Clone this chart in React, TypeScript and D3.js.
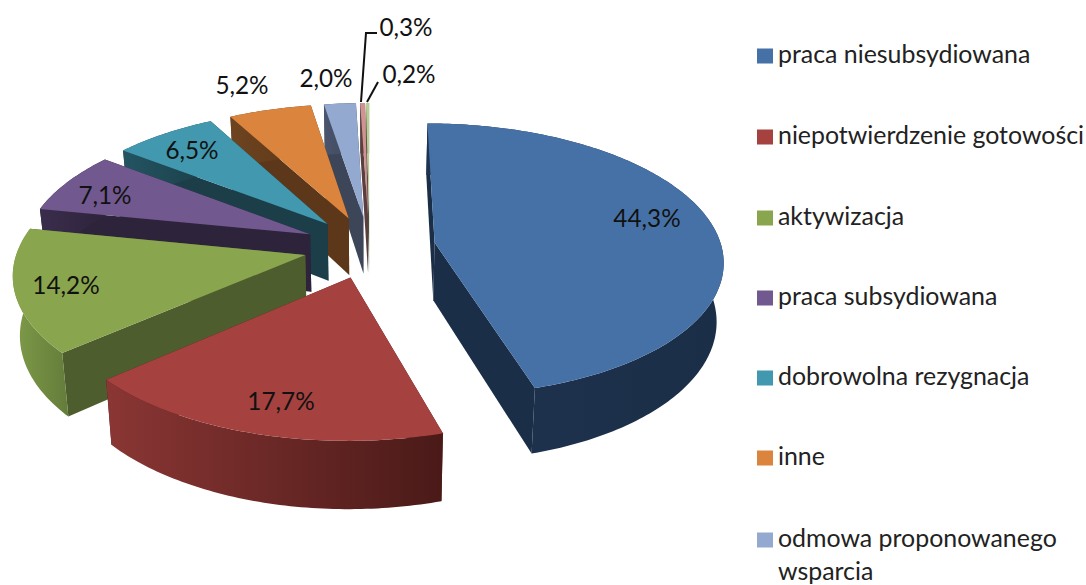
import React from "react";
import * as d3 from "d3";

const values = [44.3, 17.7, 14.2, 7.1, 6.5, 5.2, 2.0, 0.3, 0.2];
const valueLabels = ["44,3%", "17,7%", "14,2%", "7,1%", "6,5%", "5,2%", "2,0%", "0,3%", "0,2%"];
const legendNames = [
  ["praca niesubsydiowana"],
  ["niepotwierdzenie gotowości"],
  ["aktywizacja"],
  ["praca subsydiowana"],
  ["dobrowolna rezygnacja"],
  ["inne"],
  ["odmowa proponowanego", "wsparcia"],
];
const topColors = ["#4671A6", "#A5413F", "#89A54E", "#71588F", "#4198AF", "#DB843D", "#93A9CF", "#D19392", "#B9CD96"];
const radialColors = ["#1B2E47", "#4A1A18", "#4E5D2D", "#2D233B", "#1B3E48", "#5C3719", "#3D4659", "#5A3F3F", "#4D5540"];
const outerFrom = ["#1E3350", "#8A3634", "#7E9B48", "#3A2D4C", "#235462", "#6E4420", "#4A556E", "#5A3F3F", "#4D5540"];
const outerTo = ["#1B2E47", "#4A1A18", "#647C3A", "#2D233B", "#1B3E48", "#5C3719", "#3D4659", "#5A3F3F", "#4D5540"];

// layout
const FONT = "Lato, Carlito, Calibri, sans-serif";
const labelAnchors: [number, number][] = [
  [647, 218], [281, 401], [66, 285], [105, 195], [192, 150], [242, 85], [326, 78], [406, 27], [409, 74],
];
const legendRows = [56, 137, 218, 298, 378, 458, 540];
const x0 = 369.5, y0 = 247, R = 287, E = 66, K = 0.47, P = 0.00043, H = 58, SHRINK = 0.98;

type Pt = [number, number];
const project = (X: number, Z: number): Pt => {
  const f = 1 / (1 + P * Z);
  return [x0 + X * f, y0 - K * Z * f];
};
const projectBottom = (X: number, Z: number): Pt => {
  const f = 1 / (1 + P * Z);
  return [x0 + X * f * SHRINK, y0 - K * Z * f + H * f];
};

const arcs = d3.pie<number>().sort(null)(values);
const line = d3.line<Pt>();

function slice(i: number) {
  const a = arcs[i];
  const mid = (a.startAngle + a.endAngle) / 2;
  const ax = E * Math.sin(mid), az = E * Math.cos(mid);
  const n = Math.max(4, Math.ceil((a.endAngle - a.startAngle) * 60));
  const angles = d3.range(n + 1).map((k) => a.startAngle + ((a.endAngle - a.startAngle) * k) / n);
  const world = angles.map((t) => [ax + R * Math.sin(t), az + R * Math.cos(t)] as Pt);
  const topArc = world.map(([X, Z]) => project(X, Z));
  const botArc = world.map(([X, Z]) => projectBottom(X, Z));
  const apexT = project(ax, az), apexB = projectBottom(ax, az);
  return {
    top: line([apexT, ...topArc])! + "Z",
    startWall: line([apexT, topArc[0], botArc[0], apexB])! + "Z",
    endWall: line([apexT, topArc[n], botArc[n], apexB])! + "Z",
    outer: line([...topArc, ...[...botArc].reverse()])! + "Z",
  };
}

export default function App() {
  const order = d3.range(values.length).reverse();
  const lead = d3.line<Pt>();
  return (
    <svg width={1086} height={585} style={{ position: "absolute", left: 0, top: 0, background: "#fff" }} fontFamily={FONT}>
      <defs>
        {values.map((_, i) => (
          <linearGradient key={i} id={`o${i}`} x1="0" x2="1" y1="0" y2="0">
            <stop offset="0" stopColor={outerFrom[i]} />
            <stop offset="1" stopColor={outerTo[i]} />
          </linearGradient>
        ))}
      </defs>
      {order.map((i) => {
        const s = slice(i);
        return (
          <g key={i}>
            <path d={s.startWall} fill={radialColors[i]} />
            <path d={s.endWall} fill={radialColors[i]} />
            <path d={s.outer} fill={`url(#o${i})`} />
            <path d={s.top} fill={topColors[i]} />
          </g>
        );
      })}
      <path d={lead([[361, 102], [366, 33], [377, 33]])!} fill="none" stroke="#111" strokeWidth={2} />
      <path d={lead([[367, 102], [378, 82]])!} fill="none" stroke="#111" strokeWidth={2} />
      {valueLabels.map((t, i) => (
        <text key={t} x={labelAnchors[i][0]} y={labelAnchors[i][1]} dy="0.35em" textAnchor="middle" fontSize={24.3} fill="#111">
          {t}
        </text>
      ))}
      {legendNames.map((lines, i) => (
        <g key={i}>
          <rect x={757} y={legendRows[i] - 7.5} width={16} height={15} fill={topColors[i]} />
          {lines.map((l, j) => (
            <text key={l} x={778} y={legendRows[i] + j * 33} dy="0.29em" fontSize={24.9} fill="#222">
              {l}
            </text>
          ))}
        </g>
      ))}
    </svg>
  );
}
